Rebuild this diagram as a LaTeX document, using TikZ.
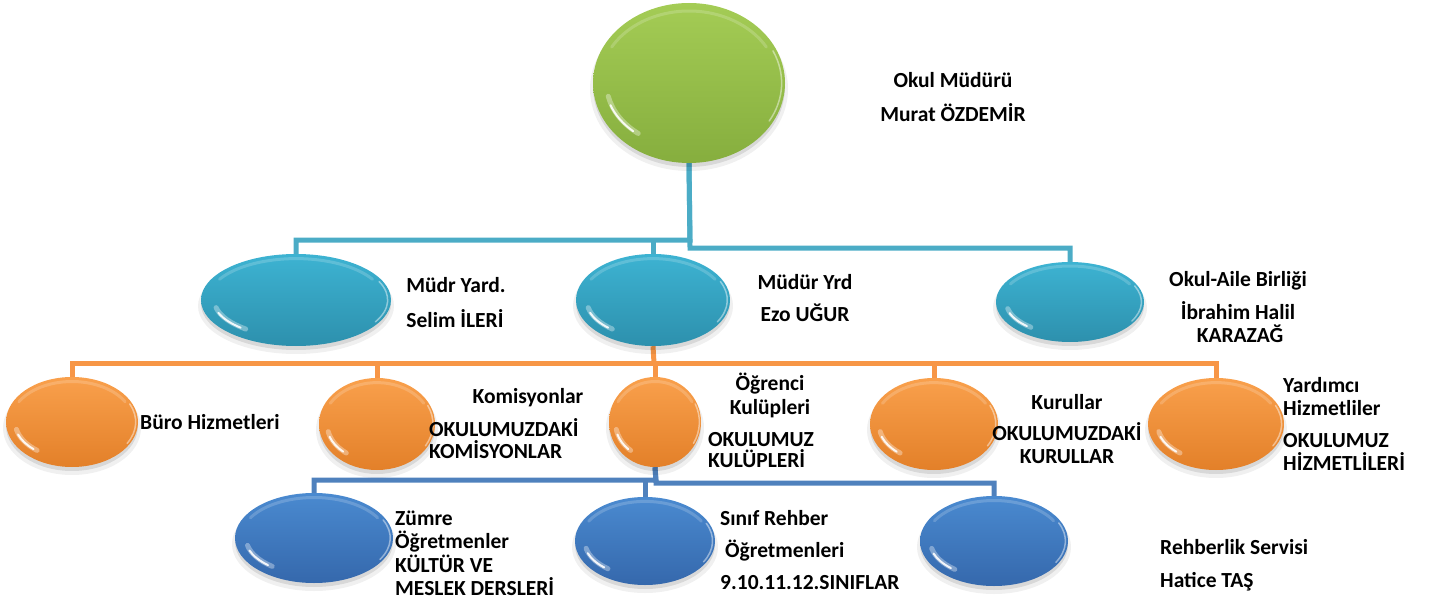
\documentclass[tikz,border=0pt]{standalone}
\usepackage{fontspec}
\setmainfont{Carlito}
\usetikzlibrary{shapes.geometric,calc}
\definecolor{lnaqua}{HTML}{4BACC6}
\definecolor{lnorange}{HTML}{F79646}
\definecolor{lnblue}{HTML}{4F81BD}
\definecolor{gtop}{HTML}{A4CC55}
\definecolor{gbot}{HTML}{86AE3E}
\definecolor{atop}{HTML}{3DB3D2}
\definecolor{abot}{HTML}{2D90AD}
\definecolor{otop}{HTML}{F9A04C}
\definecolor{obot}{HTML}{E38029}
\definecolor{btop}{HTML}{4A8AD0}
\definecolor{bbot}{HTML}{3568AC}
% #1 name, #2 x, #3 y, #4 rx, #5 ry, #6 top colour, #7 bottom colour
\newcommand\glossoval[7]{%
  \fill[black, opacity=.06] (#2,#3+6) ellipse [x radius=#4+3, y radius=#5+2];
  \fill[black, opacity=.10] (#2,#3+4) ellipse [x radius=#4, y radius=#5];
  \node[oval, minimum width=2*#4pt, minimum height=2*#5pt, top color=#6, bottom color=#7] (#1) at (#2,#3) {};
  \draw[white, opacity=.18, line width=3pt, line cap=round]
    (#2,#3) ++(-150:0.93*#4 and 0.9*#5) arc [start angle=-150, end angle=-30, x radius=0.93*#4, y radius=0.9*#5];
  \draw[white, opacity=.35, line width=5pt, line cap=round]
    (#2,#3) ++(128:0.86*#4 and 0.80*#5) arc [start angle=128, end angle=168, x radius=0.86*#4, y radius=0.80*#5];
  \draw[white, opacity=.9, line width=2pt, line cap=round]
    (#2,#3) ++(132:0.87*#4 and 0.81*#5) arc [start angle=132, end angle=160, x radius=0.87*#4, y radius=0.81*#5];
  \draw[white, opacity=.45, line width=1.5pt, line cap=round]
    (#2,#3) ++(-25:0.965*#4 and 0.95*#5) arc [start angle=-25, end angle=30, x radius=0.965*#4, y radius=0.95*#5];
}
\begin{document}
\begin{tikzpicture}[x=1pt,y=-1pt,
  oval/.style={ellipse, draw=none, inner sep=0pt},
  lbl/.style={font=\fontsize{21.5}{25}\selectfont\bfseries, inner sep=0pt, text=black},
  conn/.style={line width=5pt, line join=miter},
  aq/.style={conn, draw=lnaqua},
  org/.style={conn, draw=lnorange},
  dbl/.style={conn, draw=lnblue}]
\useasboundingbox (0,0) rectangle (1437,604);

% junction points of the connectors
\coordinate (ja1) at (690,240);
\coordinate (ja2) at (690,248);
\coordinate (jo) at (654,363);
\coordinate (jd1) at (656,480);
\coordinate (jd2) at (656,483);

% shape nodes (placed first so connectors can refer to them)
\node[oval, minimum width=192pt, minimum height=160pt] (green) at (689,83) {};
\node[oval, minimum width=190pt, minimum height=92pt] (B1) at (296,300) {};
\node[oval, minimum width=154pt, minimum height=92pt] (B2) at (653,300) {};
\node[oval, minimum width=148pt, minimum height=80pt] (B3) at (1070,302) {};
\node[oval, minimum width=132pt, minimum height=90pt] (O1) at (72,422) {};
\node[oval, minimum width=116pt, minimum height=92pt] (O2) at (377,424) {};
\node[oval, minimum width=92pt, minimum height=90pt] (O3) at (655,422) {};
\node[oval, minimum width=128pt, minimum height=92pt] (O4) at (934,424) {};
\node[oval, minimum width=136pt, minimum height=92pt] (O5) at (1216,424) {};
\node[oval, minimum width=158pt, minimum height=90pt] (D1) at (314,538) {};
\node[oval, minimum width=140pt, minimum height=88pt] (D2) at (645,541) {};
\node[oval, minimum width=148pt, minimum height=90pt] (D3) at (994,541) {};

\draw[aq] (green.south) -- (ja1) -| (B1.north);
\draw[aq] (ja1 -| B2.north) -- (B2.north);
\draw[aq] (green.south) -- (ja2) -| (B3.north);

\draw[org] (B2.south) -- (jo);
\draw[org] (jo) -| (O1.north);
\draw[org] (jo) -| (O2.north);
\draw[org] (jo) -- (jo -| O3.north) -- (O3.north);
\draw[org] (jo) -| (O4.north);
\draw[org] (jo) -| (O5.north);

\draw[dbl] (O3.south) -- (jd1) -| (D1.north);
\draw[dbl] (O3.south) -- (jd2) -| (D3.north);
\draw[dbl] (jd1 -| D2.north) -- (D2.north);

% glossy shapes
\glossoval{green}{689}{83}{96}{80}{gtop}{gbot}
\glossoval{B1}{296}{300}{95}{46}{atop}{abot}
\glossoval{B2}{653}{300}{77}{46}{atop}{abot}
\glossoval{B3}{1070}{302}{74}{40}{atop}{abot}
\glossoval{O1}{72}{422}{66}{45}{otop}{obot}
\glossoval{O2}{377}{424}{58}{46}{otop}{obot}
\glossoval{O3}{655}{422}{46}{45}{otop}{obot}
\glossoval{O4}{934}{424}{64}{46}{otop}{obot}
\glossoval{O5}{1216}{424}{68}{46}{otop}{obot}
\glossoval{D1}{314}{538}{79}{45}{btop}{bbot}
\glossoval{D2}{645}{541}{70}{44}{btop}{bbot}
\glossoval{D3}{994}{541}{74}{45}{btop}{bbot}

% labels
\node[lbl, anchor=base] (tOM1) at (953,88) {Okul Müdürü};
\node[lbl, anchor=base] (tOM2) at (953,122) {Murat ÖZDEMİR};

\node[lbl, anchor=base] (tMY1) at (456,292) {Müdr Yard.};
\node[lbl, anchor=base] (tMY2) at (455,327) {Selim İLERİ};

\node[lbl, anchor=base] (tEZ1) at (805,289) {Müdür Yrd};
\node[lbl, anchor=base] (tEZ2) at (805,321) {Ezo UĞUR};

\node[lbl, anchor=base] (tOA1) at (1238,286) {Okul-Aile Birliği};
\node[lbl, anchor=base] (tOA2) at (1238,319) {İbrahim Halil};
\node[lbl, anchor=base] (tOA3) at (1240,342) {KARAZAĞ};

\node[lbl, anchor=base west] (tBH) at (140,429) {Büro Hizmetleri};

\node[lbl, anchor=base] (tKO1) at (528,403) {Komisyonlar};
\node[lbl, anchor=base west] (tKO2) at (429,436) {OKULUMUZDAKİ};
\node[lbl, anchor=base west] (tKO3) at (429,458) {KOMİSYONLAR};

\node[lbl, anchor=base] (tOK1) at (770,390) {Öğrenci};
\node[lbl, anchor=base] (tOK2) at (770,414) {Kulüpleri};
\node[lbl, anchor=base west] (tOK3) at (708,446) {OKULUMUZ};
\node[lbl, anchor=base west] (tOK4) at (708,467) {KULÜPLERİ};

\node[lbl, anchor=base] (tKU1) at (1067,409) {Kurullar};
\node[lbl, anchor=base] (tKU2) at (1067,440) {OKULUMUZDAKİ};
\node[lbl, anchor=base] (tKU3) at (1067,463) {KURULLAR};

\node[lbl, anchor=base west] (tYH1) at (1283,392) {Yardımcı};
\node[lbl, anchor=base west] (tYH2) at (1283,415) {Hizmetliler};
\node[lbl, anchor=base west] (tYH3) at (1283,447) {OKULUMUZ};
\node[lbl, anchor=base west] (tYH4) at (1283,470) {HİZMETLİLERİ};

\node[lbl, anchor=base west] (tZO1) at (395,525) {Zümre};
\node[lbl, anchor=base west] (tZO2) at (395,548) {Öğretmenler};
\node[lbl, anchor=base west] (tZO3) at (395,572) {KÜLTÜR VE};
\node[lbl, anchor=base west] (tZO4) at (395,595) {MESLEK DERSLERİ};

\node[lbl, anchor=base west] (tSR1) at (720,525) {Sınıf Rehber};
\node[lbl, anchor=base west] (tSR2) at (725,557) {Öğretmenleri};
\node[lbl, anchor=base west] (tSR3) at (720,589) {9.10.11.12.SINIFLAR};

\node[lbl, anchor=base west] (tRS1) at (1160,554) {Rehberlik Servisi};
\node[lbl, anchor=base west] (tRS2) at (1160,587) {Hatice TAŞ};
\end{tikzpicture}
\end{document}
